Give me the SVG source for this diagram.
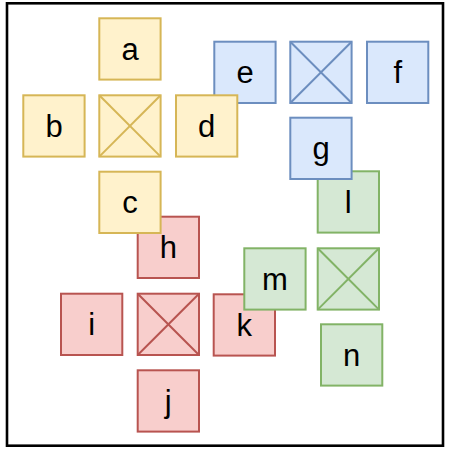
<svg xmlns="http://www.w3.org/2000/svg" width="449" height="452" viewBox="0 0 449 452">
<style>
.box{stroke-width:2}
.y{fill:#fff2cc;stroke:#d6b656}
.b{fill:#dae8fc;stroke:#6c8ebf}
.r{fill:#f8cecc;stroke:#b85450}
.g{fill:#d5e8d4;stroke:#82b366}
.yl{stroke:#d6b656;stroke-width:2}
.bl{stroke:#6c8ebf;stroke-width:2}
.rl{stroke:#b85450;stroke-width:2}
.gl{stroke:#82b366;stroke-width:2}
text{font-family:"Liberation Sans",Arial,sans-serif;font-size:31px;fill:#000;text-anchor:middle}
</style>
<rect x="0" y="0" width="449" height="452" fill="#ffffff"/>
<rect x="7" y="3.3" width="436" height="442.4" fill="#ffffff" stroke="#000000" stroke-width="2.6"/>
<g id="connectors"></g>
<!-- red -->
<g id="h"><rect class="box r" x="137.7" y="216.7" width="61.3" height="61.3"/><text x="168.3" y="258.3">h</text></g>
<g id="i"><rect class="box r" x="61" y="293.7" width="61.3" height="61.3"/><text x="91.7" y="335.3">i</text></g>
<g id="red-x"><rect class="box r" x="137.7" y="293.7" width="61.3" height="61.3"/><line class="rl" x1="137.7" y1="293.7" x2="199" y2="355"/><line class="rl" x1="199" y1="293.7" x2="137.7" y2="355"/></g>
<g id="k"><rect class="box r" x="213.7" y="294.3" width="61.3" height="61.3"/><text x="244.3" y="335.9">k</text></g>
<g id="j"><rect class="box r" x="137.7" y="370.3" width="61.3" height="61.3"/><text x="168.3" y="411.9">j</text></g>
<!-- green -->
<g id="l"><rect class="box g" x="317.7" y="171.3" width="61.3" height="61.3"/><text x="348.3" y="212.9">l</text></g>
<g id="m"><rect class="box g" x="244.3" y="248.3" width="61.3" height="61.3"/><text x="275" y="289.9">m</text></g>
<g id="green-x"><rect class="box g" x="317.7" y="248.3" width="61.3" height="61.3"/><line class="gl" x1="317.7" y1="248.3" x2="379" y2="309.6"/><line class="gl" x1="379" y1="248.3" x2="317.7" y2="309.6"/></g>
<g id="n"><rect class="box g" x="321" y="324.3" width="61.3" height="61.3"/><text x="351.7" y="365.9">n</text></g>
<!-- blue -->
<g id="e"><rect class="box b" x="214.3" y="41.7" width="61.3" height="61.3"/><text x="245" y="83.3">e</text></g>
<g id="blue-x"><rect class="box b" x="290.3" y="41.7" width="61.3" height="61.3"/><line class="bl" x1="290.3" y1="41.7" x2="351.6" y2="103"/><line class="bl" x1="351.6" y1="41.7" x2="290.3" y2="103"/></g>
<g id="f"><rect class="box b" x="367" y="41.7" width="61.3" height="61.3"/><text x="397.7" y="83.3">f</text></g>
<g id="g"><rect class="box b" x="290.3" y="117.7" width="61.3" height="61.3"/><text x="321" y="159.3">g</text></g>
<!-- yellow -->
<g id="a"><rect class="box y" x="99.3" y="18.3" width="61.3" height="61.3"/><text x="130" y="59.9">a</text></g>
<g id="b"><rect class="box y" x="23.3" y="95.3" width="61.3" height="61.3"/><text x="54" y="136.9">b</text></g>
<g id="yellow-x"><rect class="box y" x="99.3" y="95.3" width="61.3" height="61.3"/><line class="yl" x1="99.3" y1="95.3" x2="160.6" y2="156.6"/><line class="yl" x1="160.6" y1="95.3" x2="99.3" y2="156.6"/></g>
<g id="d"><rect class="box y" x="176" y="95.3" width="61.3" height="61.3"/><text x="206.7" y="136.9">d</text></g>
<g id="c"><rect class="box y" x="99.3" y="171.7" width="61.3" height="61.3"/><text x="130" y="213.3">c</text></g>
</svg>
